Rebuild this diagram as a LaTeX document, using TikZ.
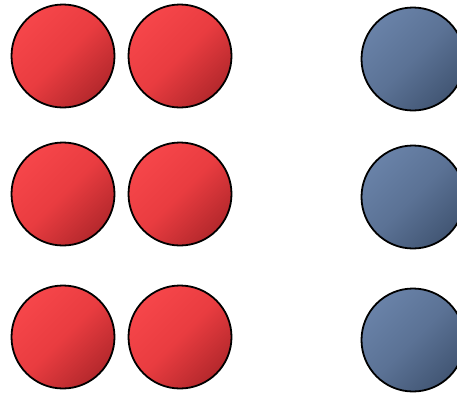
\documentclass[tikz,border=0pt]{standalone}
\begin{document}
\begin{tikzpicture}[x=1pt,y=-1pt,
  ball/.style={circle,draw=black,line width=1.8pt,minimum size=103pt,inner sep=0pt},
  redball/.style={ball,top color=red1,bottom color=red2,middle color=red3,shading angle=45},
  blueball/.style={ball,top color=blue1,bottom color=blue2,middle color=blue3,shading angle=45}]
  \definecolor{red1}{HTML}{F6464A}
  \definecolor{red3}{HTML}{E93C40}
  \definecolor{red2}{HTML}{B4282C}
  \definecolor{blue1}{HTML}{6982A8}
  \definecolor{blue3}{HTML}{5B7295}
  \definecolor{blue2}{HTML}{425674}
  \useasboundingbox (0,0) rectangle (457,394);
  % left pairs
  \node[redball] (r1a) at (63,56) {};
  \node[redball] (r1b) at (180,56) {};
  \node[redball] (r2a) at (63,194) {};
  \node[redball] (r2b) at (180,194) {};
  \node[redball] (r3a) at (63,337) {};
  \node[redball] (r3b) at (180,337) {};
  % right column
  \node[blueball] (b1) at (413,59) {};
  \node[blueball] (b2) at (413,197) {};
  \node[blueball] (b3) at (413,340) {};
\end{tikzpicture}
\end{document}
